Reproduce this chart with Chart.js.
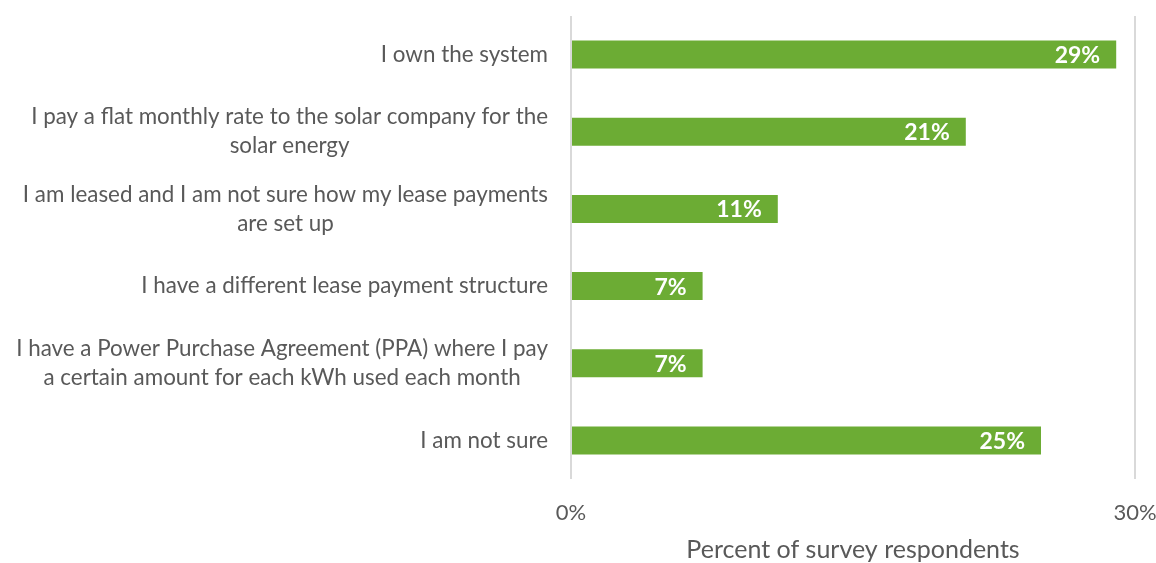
<!DOCTYPE html>
<html>
<head>
<meta charset="utf-8">
<script src="https://cdn.jsdelivr.net/npm/chart.js@4.4.1/dist/chart.umd.min.js"></script>
<style>
  html, body { margin: 0; padding: 0; background: #ffffff; }
  #wrap { width: 1156px; height: 563px; }
</style>
</head>
<body>
<div id="wrap"><canvas id="chart"></canvas></div>
<script>
// Survey answers (each entry is the wrapped lines of one category label)
const categories = [
  ['I own the system'],
  ['I pay a flat monthly rate to the solar company for the', 'solar energy'],
  ['I am leased and I am not sure how my lease payments', 'are set up'],
  ['I have a different lease payment structure'],
  ['I have a Power Purchase Agreement (PPA) where I pay', 'a certain amount for each kWh used each month'],
  ['I am not sure']
];
// Share of respondents, in percent
const values = [29, 21, 11, 7, 7, 25];
// Value-axis ticks, in percent
const xTicks = [0, 30];
const axisTitle = 'Percent of survey respondents';

const FONT = 'Lato, "Open Sans", sans-serif';
const TEXT = '#595959';
const GREEN = '#6cac34';

// Category labels: block right-aligned to the axis, lines centred within the block
const categoryLabels = {
  id: 'categoryLabels',
  afterDraw(chart) {
    const ctx = chart.ctx;
    const y = chart.scales.y;
    const lineH = 29;
    ctx.save();
    ctx.font = '22.4px ' + FONT;
    ctx.fillStyle = TEXT;
    ctx.textAlign = 'center';
    ctx.textBaseline = 'middle';
    categories.forEach((lines, i) => {
      const cy = y.getPixelForValue(i);
      const w = Math.max(...lines.map(l => ctx.measureText(l).width));
      const right = y.right - 23;
      const cx = right - w / 2;
      const top = cy - (lines.length - 1) * lineH / 2;
      lines.forEach((l, k) => ctx.fillText(l, cx, top + k * lineH));
    });
    ctx.restore();
  }
};

// Value labels inside the end of each bar
const valueLabels = {
  id: 'valueLabels',
  afterDatasetsDraw(chart) {
    const ctx = chart.ctx;
    const meta = chart.getDatasetMeta(0);
    ctx.save();
    ctx.font = 'bold 23px ' + FONT;
    ctx.fillStyle = '#ffffff';
    ctx.textAlign = 'right';
    ctx.textBaseline = 'middle';
    meta.data.forEach((bar, i) => {
      ctx.fillText(values[i] + '%', bar.x - 16, bar.y + 1);
    });
    ctx.restore();
  }
};

new Chart(document.getElementById('chart'), {
  type: 'bar',
  data: {
    labels: categories,
    datasets: [{
      data: values,
      backgroundColor: GREEN,
      borderWidth: 0,
      barPercentage: 0.363,
      categoryPercentage: 1.0
    }]
  },
  options: {
    indexAxis: 'y',
    responsive: true,
    maintainAspectRatio: false,
    animation: false,
    layout: { padding: { top: 16, right: 0, left: 0, bottom: 0 } },
    plugins: {
      legend: { display: false },
      tooltip: { enabled: false }
    },
    scales: {
      x: {
        min: 0,
        max: 30,
        afterBuildTicks(scale) { scale.ticks = xTicks.map(v => ({ value: v })); },
        afterFit(scale) { scale.height = 84; scale.paddingRight = 21; },
        grid: { color: '#d9d9d9', lineWidth: 2, drawTicks: false },
        border: { display: false },
        ticks: {
          color: TEXT,
          font: { family: FONT, size: 22 },
          padding: 21,
          maxRotation: 0,
          callback: v => v + '%'
        },
        title: {
          display: true,
          text: axisTitle,
          color: TEXT,
          font: { family: FONT, size: 25, lineHeight: 1.05 },
          padding: { top: 8, bottom: 0 }
        }
      },
      y: {
        afterFit(scale) { scale.width = 571; },
        grid: { display: false },
        border: { display: false },
        ticks: { display: false }
      }
    }
  },
  plugins: [categoryLabels, valueLabels]
});
</script>
</body>
</html>
